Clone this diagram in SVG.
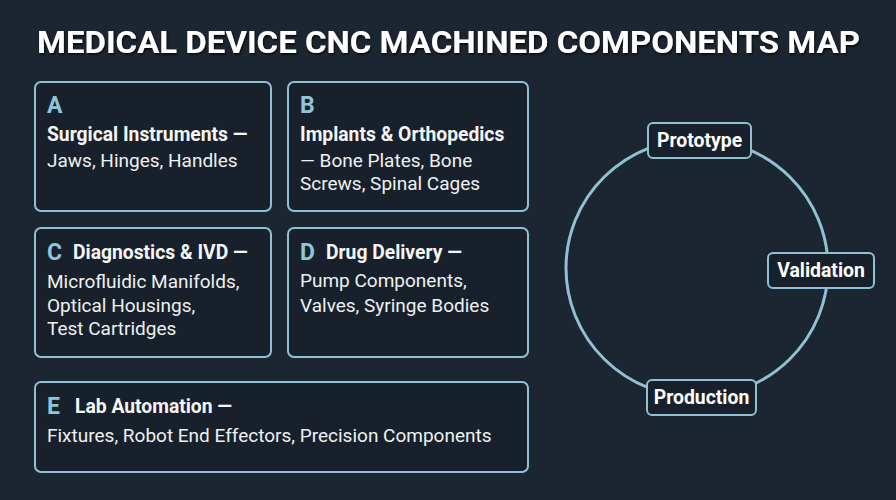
<svg xmlns="http://www.w3.org/2000/svg" width="896" height="500" viewBox="0 0 896 500">
<defs>
<style>
.bg{fill:#1c2632}
.card{fill:#18212b;stroke:#8fc1d2;stroke-width:2}
.tag{fill:#18212b;stroke:#8fc1d2;stroke-width:2}
.title{font-family:Roboto,"Liberation Sans",sans-serif;font-weight:700;font-size:32px;fill:#ffffff}
.letter{font-family:Roboto,"Liberation Sans",sans-serif;font-weight:700;font-size:23px;fill:#8fc5d8}
.head{font-family:Roboto,"Liberation Sans",sans-serif;font-weight:700;font-size:19.3px;fill:#f4f6f8}
.body{font-family:Roboto,"Liberation Sans",sans-serif;font-weight:400;font-size:19px;fill:#eef1f4}
.lbl{font-family:Roboto,"Liberation Sans",sans-serif;font-weight:700;font-size:19.4px;fill:#ffffff;text-anchor:middle}
.ring{fill:none;stroke:#8fc1d2;stroke-width:3}
</style>
<filter id="sh" x="-5%" y="-20%" width="110%" height="140%">
<feDropShadow dx="1" dy="1.5" stdDeviation="1" flood-color="#000000" flood-opacity="0.8"/>
</filter>
</defs>
<rect class="bg" x="0" y="0" width="896" height="500"/>
<text class="title" x="37" y="53" textLength="823" lengthAdjust="spacingAndGlyphs" filter="url(#sh)">MEDICAL DEVICE CNC MACHINED COMPONENTS MAP</text>

<g id="node-a">
<rect class="card" x="35" y="82" width="236" height="129" rx="6"/>
<text class="letter" x="47" y="113">A</text>
<text class="head" x="47" y="141">Surgical Instruments —</text>
<text class="body" x="47" y="167">Jaws, Hinges, Handles</text>
</g>
<g id="node-b">
<rect class="card" x="288" y="82" width="240" height="129" rx="6"/>
<text class="letter" x="300" y="113">B</text>
<text class="head" x="300" y="141">Implants &amp; Orthopedics</text>
<text class="body" x="300" y="167">— Bone Plates, Bone</text>
<text class="body" x="300" y="190">Screws, Spinal Cages</text>
</g>
<g id="node-c">
<rect class="card" x="35" y="228" width="236" height="129" rx="6"/>
<text class="letter" x="47" y="260">C</text>
<text class="head" x="73" y="259">Diagnostics &amp; IVD —</text>
<text class="body" x="47" y="288">Microfluidic Manifolds,</text>
<text class="body" x="47" y="312">Optical Housings,</text>
<text class="body" x="47" y="335">Test Cartridges</text>
</g>
<g id="node-d">
<rect class="card" x="288" y="228" width="240" height="129" rx="6"/>
<text class="letter" x="300" y="260">D</text>
<text class="head" x="326" y="259">Drug Delivery —</text>
<text class="body" x="300" y="287">Pump Components,</text>
<text class="body" x="300" y="312">Valves, Syringe Bodies</text>
</g>
<g id="node-e">
<rect class="card" x="35" y="382" width="493" height="90" rx="6"/>
<text class="letter" x="47" y="414">E</text>
<text class="head" x="75" y="413">Lab Automation —</text>
<text class="body" x="47" y="442">Fixtures, Robot End Effectors, Precision Components</text>
</g>

<g id="connectors">
<ellipse class="ring" cx="697" cy="268" rx="131" ry="129"/>
</g>

<g id="node-prototype">
<rect class="tag" x="648" y="123" width="103" height="35" rx="5"/>
<text class="lbl" x="699.5" y="147">Prototype</text>
</g>
<g id="node-validation">
<rect class="tag" x="768" y="253" width="106" height="35" rx="5"/>
<text class="lbl" x="821" y="277">Validation</text>
</g>
<g id="node-production">
<rect class="tag" x="647" y="380" width="109" height="35" rx="5"/>
<text class="lbl" x="701.5" y="404">Production</text>
</g>
</svg>
